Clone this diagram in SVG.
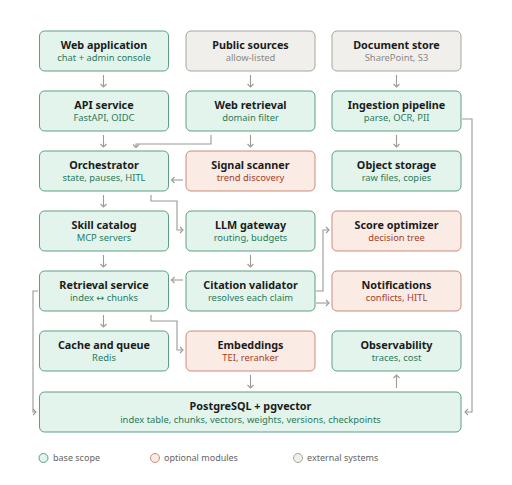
<svg xmlns="http://www.w3.org/2000/svg" width="512" height="485" viewBox="0 0 512 485">
<defs>
<marker id="arr" markerWidth="8" markerHeight="8" refX="4" refY="4" orient="auto" markerUnits="userSpaceOnUse">
<path d="M1,1 L4,4 L1,7" fill="none" stroke="#9a9a96" stroke-width="1.1"/>
</marker>
<style>
.base rect{fill:#e2f4ec;stroke:#5e9e82;stroke-width:1}
.opt rect{fill:#fbebe5;stroke:#c98c7c;stroke-width:1}
.ext rect{fill:#f0efeb;stroke:#a9a59c;stroke-width:1}
text{font-family:"Noto Sans","Open Sans","DejaVu Sans",sans-serif;text-anchor:middle}
.t{font-size:10.8px;font-weight:bold;fill:#1c1c1c}
.s{font-size:9.4px}
.base .s{fill:#2d7a5a}
.opt .s{fill:#a3412a}
.ext .s{fill:#8a8a86}
#connectors path{fill:none;stroke:#9a9a96;stroke-width:1.1;marker-end:url(#arr)}
.lg{font-size:9px;fill:#666;text-anchor:start}
</style>
</defs>
<rect width="512" height="485" fill="#ffffff"/>
<g id="connectors">
<path d="M103.5,75 V87"/>
<path d="M250.5,75 V87"/>
<path d="M396.5,75 V87"/>
<path d="M103.5,135 V147"/>
<path d="M211,135 V144 H136 V147.5"/>
<path d="M250.5,135 V147"/>
<path d="M396.5,135 V147"/>
<path d="M462,119 H472 V412 H465"/>
<path d="M183,180 H171.5"/>
<path d="M103.5,195 V207"/>
<path d="M151,195 V201 H177 V230 H183"/>
<path d="M103.5,255 V267"/>
<path d="M250.5,255 V267"/>
<path d="M183,280 H171.5"/>
<path d="M316,291 H323 V230 H329"/>
<path d="M316,303 H329"/>
<path d="M103.5,315 V327"/>
<path d="M151,315 V321 H177 V350 H183"/>
<path d="M38,291 H33 V412 H36"/>
<path d="M250.5,375 V388"/>
<path d="M396.5,388 V375"/>
</g>
<g id="web-application" class="base"><rect x="39.5" y="31" width="129" height="40" rx="5"/><text class="t" x="104" y="49">Web application</text><text class="s" x="104" y="61">chat + admin console</text></g>
<g id="public-sources" class="ext"><rect x="186" y="31" width="129" height="40" rx="5"/><text class="t" x="250.5" y="49">Public sources</text><text class="s" x="250.5" y="61">allow-listed</text></g>
<g id="document-store" class="ext"><rect x="332" y="31" width="129" height="40" rx="5"/><text class="t" x="396.5" y="49">Document store</text><text class="s" x="396.5" y="61">SharePoint, S3</text></g>
<g id="api-service" class="base"><rect x="39.5" y="91" width="129" height="40" rx="5"/><text class="t" x="104" y="109">API service</text><text class="s" x="104" y="121">FastAPI, OIDC</text></g>
<g id="web-retrieval" class="base"><rect x="186" y="91" width="129" height="40" rx="5"/><text class="t" x="250.5" y="109">Web retrieval</text><text class="s" x="250.5" y="121">domain filter</text></g>
<g id="ingestion-pipeline" class="base"><rect x="332" y="91" width="129" height="40" rx="5"/><text class="t" x="396.5" y="109">Ingestion pipeline</text><text class="s" x="396.5" y="121">parse, OCR, PII</text></g>
<g id="orchestrator" class="base"><rect x="39.5" y="151" width="129" height="40" rx="5"/><text class="t" x="104" y="169">Orchestrator</text><text class="s" x="104" y="181">state, pauses, HITL</text></g>
<g id="signal-scanner" class="opt"><rect x="186" y="151" width="129" height="40" rx="5"/><text class="t" x="250.5" y="169">Signal scanner</text><text class="s" x="250.5" y="181">trend discovery</text></g>
<g id="object-storage" class="base"><rect x="332" y="151" width="129" height="40" rx="5"/><text class="t" x="396.5" y="169">Object storage</text><text class="s" x="396.5" y="181">raw files, copies</text></g>
<g id="skill-catalog" class="base"><rect x="39.5" y="211" width="129" height="40" rx="5"/><text class="t" x="104" y="229">Skill catalog</text><text class="s" x="104" y="241">MCP servers</text></g>
<g id="llm-gateway" class="base"><rect x="186" y="211" width="129" height="40" rx="5"/><text class="t" x="250.5" y="229">LLM gateway</text><text class="s" x="250.5" y="241">routing, budgets</text></g>
<g id="score-optimizer" class="opt"><rect x="332" y="211" width="129" height="40" rx="5"/><text class="t" x="396.5" y="229">Score optimizer</text><text class="s" x="396.5" y="241">decision tree</text></g>
<g id="retrieval-service" class="base"><rect x="39.5" y="271" width="129" height="40" rx="5"/><text class="t" x="104" y="289">Retrieval service</text><text class="s" x="104" y="301">index ↔ chunks</text></g>
<g id="citation-validator" class="base"><rect x="186" y="271" width="129" height="40" rx="5"/><text class="t" x="250.5" y="289">Citation validator</text><text class="s" x="250.5" y="301">resolves each claim</text></g>
<g id="notifications" class="opt"><rect x="332" y="271" width="129" height="40" rx="5"/><text class="t" x="396.5" y="289">Notifications</text><text class="s" x="396.5" y="301">conflicts, HITL</text></g>
<g id="cache-and-queue" class="base"><rect x="39.5" y="331" width="129" height="40" rx="5"/><text class="t" x="104" y="349">Cache and queue</text><text class="s" x="104" y="361">Redis</text></g>
<g id="embeddings" class="opt"><rect x="186" y="331" width="129" height="40" rx="5"/><text class="t" x="250.5" y="349">Embeddings</text><text class="s" x="250.5" y="361">TEI, reranker</text></g>
<g id="observability" class="base"><rect x="332" y="331" width="129" height="40" rx="5"/><text class="t" x="396.5" y="349">Observability</text><text class="s" x="396.5" y="361">traces, cost</text></g>
<g id="postgresql" class="base"><rect x="39.5" y="392" width="421.5" height="40" rx="5"/><text class="t" x="250.5" y="410">PostgreSQL + pgvector</text><text class="s" x="250.5" y="422.5">index table, chunks, vectors, weights, versions, checkpoints</text></g>
<g id="legend">
<g class="base"><circle cx="43.5" cy="458" r="4.5" fill="#e2f4ec" stroke="#5e9e82"/><text class="lg" x="53" y="461">base scope</text></g>
<g class="opt"><circle cx="155" cy="458" r="4.5" fill="#fbebe5" stroke="#c98c7c"/><text class="lg" x="164" y="461">optional modules</text></g>
<g class="ext"><circle cx="298" cy="458" r="4.5" fill="#f0efeb" stroke="#a9a59c"/><text class="lg" x="307" y="461">external systems</text></g>
</g>
</svg>
